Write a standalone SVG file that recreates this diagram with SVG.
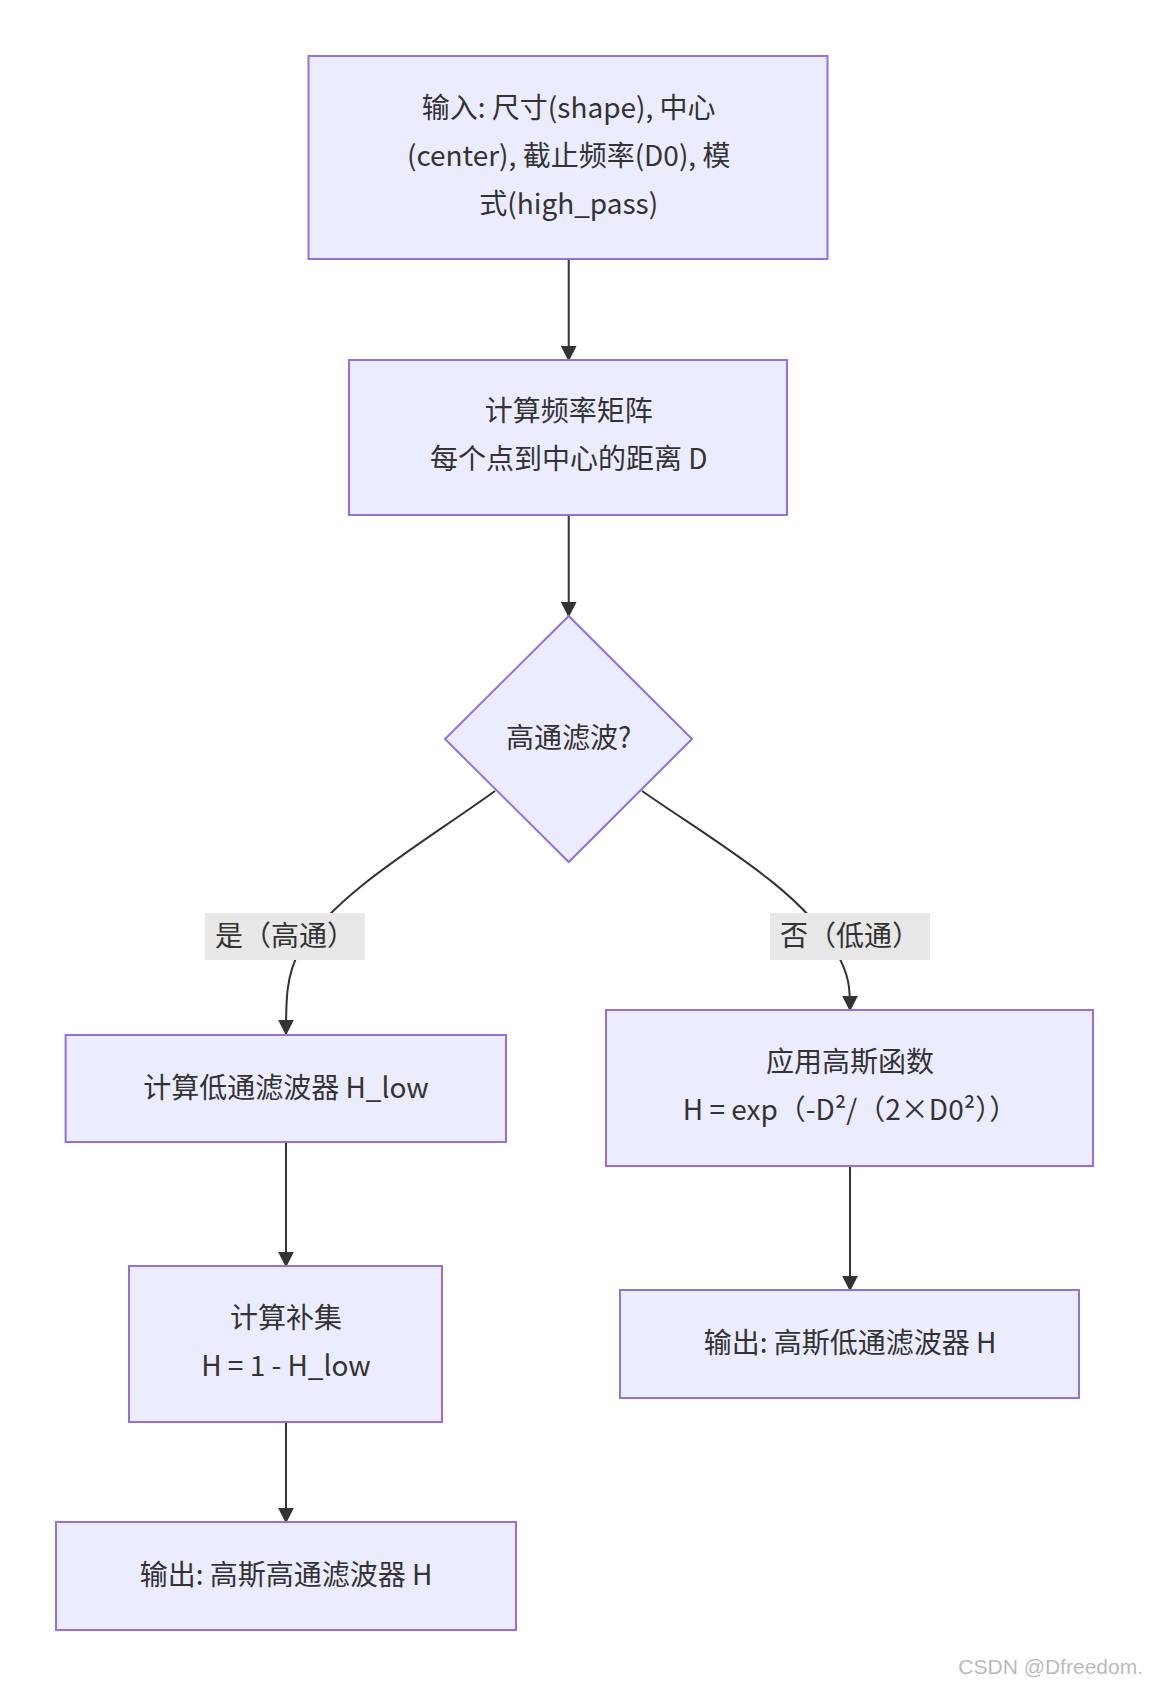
<svg xmlns="http://www.w3.org/2000/svg" width="1150" height="1687" viewBox="0 0 1150 1687">
<style>
.n{fill:#ECECFF;stroke:#9370DB;stroke-width:2}
.t{font-family:"Noto Sans CJK SC","Noto Sans",sans-serif;font-size:28px;fill:#333;text-anchor:middle}
.e{fill:none;stroke:#333;stroke-width:2;marker-end:url(#a)}
.lb{fill:#e8e8e8}
</style>
<defs><marker id="a" viewBox="0 0 10 10" refX="9" refY="5" markerWidth="8" markerHeight="8" orient="auto"><path d="M0,0L10,5L0,10z" fill="#333"/></marker></defs>
<rect width="1150" height="1687" fill="#fff"/>
<g id="edges">
<path class="e" d="M568.7,259V360"/>
<path class="e" d="M568.7,515V616"/>
<path class="e" d="M495,791C420,845 340,890 300,950C286,975 286,1000 286,1034"/>
<path class="e" d="M642,791C720,845 800,890 835,950C850,975 850,990 850,1010"/>
<path class="e" d="M286,1142V1266"/>
<path class="e" d="M286,1422V1522"/>
<path class="e" d="M850,1166V1290"/>
<rect class="lb" x="205" y="913" width="160" height="47"/>
<text class="t" x="285" y="946">是（高通）</text>
<rect class="lb" x="770" y="913" width="160" height="47"/>
<text class="t" x="850" y="946">否（低通）</text>
</g>
<g id="n1"><rect class="n" x="308.5" y="56" width="519" height="203"/>
<text class="t" x="568.7" y="118">输入: 尺寸(shape), 中心</text>
<text class="t" x="568.7" y="166">(center), 截止频率(D0), 模</text>
<text class="t" x="568.7" y="214">式(high_pass)</text></g>
<g id="n2"><rect class="n" x="349" y="360" width="438" height="155"/>
<text class="t" x="568.7" y="421">计算频率矩阵</text>
<text class="t" x="568.7" y="469">每个点到中心的距离 D</text></g>
<g id="n3"><path class="n" d="M568.7,616L692,739L568.7,862L445,739z"/>
<text class="t" x="568.7" y="748">高通滤波?</text></g>
<g id="n4"><rect class="n" x="65.6" y="1035" width="440.4" height="107"/>
<text class="t" x="286" y="1098">计算低通滤波器 H_low</text></g>
<g id="n5"><rect class="n" x="606" y="1010" width="487" height="156"/>
<text class="t" x="850" y="1072">应用高斯函数</text>
<text class="t" x="850" y="1120">H = exp（-D²/（2×D0²））</text></g>
<g id="n6"><rect class="n" x="129" y="1266" width="313" height="156"/>
<text class="t" x="286" y="1328">计算补集</text>
<text class="t" x="286" y="1376">H = 1 - H_low</text></g>
<g id="n7"><rect class="n" x="620" y="1290" width="459" height="108"/>
<text class="t" x="850" y="1353">输出: 高斯低通滤波器 H</text></g>
<g id="n8"><rect class="n" x="56" y="1522" width="460" height="108"/>
<text class="t" x="286" y="1585">输出: 高斯高通滤波器 H</text></g>
<text x="1143" y="1674" font-family="Liberation Sans,sans-serif" font-size="21" fill="#bbb" text-anchor="end">CSDN @Dfreedom.</text>
</svg>
